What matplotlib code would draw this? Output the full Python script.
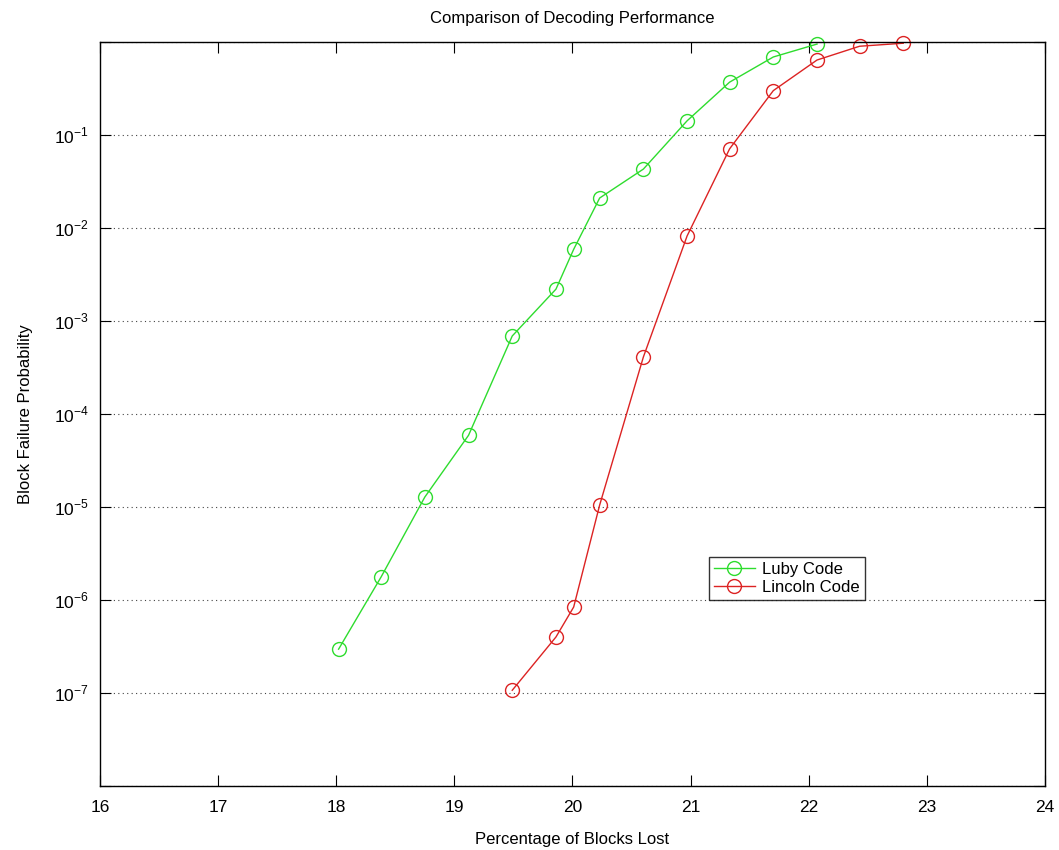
import matplotlib
matplotlib.use("Agg")
import matplotlib.pyplot as plt
import numpy as np

plt.rcParams['font.family'] = ['Liberation Sans', 'DejaVu Sans']
plt.rcParams['mathtext.fontset'] = 'custom'
plt.rcParams['mathtext.rm'] = 'Liberation Sans'

luby_x = [18.02, 18.38, 18.75, 19.12, 19.49, 19.86, 20.01, 20.23, 20.60, 20.97, 21.33, 21.70, 22.07]
luby_y = [2.96e-7, 1.77e-6, 1.28e-5, 5.9e-5, 6.9e-4, 2.2e-3, 5.9e-3, 2.1e-2, 4.3e-2, 0.142, 0.37, 0.69, 0.95]

lincoln_x = [19.49, 19.86, 20.01, 20.23, 20.60, 20.97, 21.33, 21.70, 22.07, 22.43, 22.80]
lincoln_y = [1.07e-7, 4.0e-7, 8.4e-7, 1.05e-5, 4.1e-4, 8.2e-3, 0.071, 0.30, 0.64, 0.90, 0.97]

x_ticks = [16, 17, 18, 19, 20, 21, 22, 23, 24]
y_ticks = [1e-8, 1e-7, 1e-6, 1e-5, 1e-4, 1e-3, 1e-2, 1e-1, 1e0]
y_tick_labels = ['', r'$10^{-7}$', r'$10^{-6}$', r'$10^{-5}$', r'$10^{-4}$',
                 r'$10^{-3}$', r'$10^{-2}$', r'$10^{-1}$', '']

fig = plt.figure(figsize=(10.59, 8.5), dpi=100)
ax = fig.add_axes([0.0944, 0.0753, 0.8924, 0.8753])

ax.plot(luby_x, luby_y, color='#2edc2e', lw=1.0, marker='o', markersize=10,
        markerfacecolor='none', markeredgewidth=1.0, label='Luby Code', clip_on=False)
ax.plot(lincoln_x, lincoln_y, color='#dc2323', lw=1.0, marker='o', markersize=10,
        markerfacecolor='none', markeredgewidth=1.0, label='Lincoln Code', clip_on=False)

ax.set_yscale('log')
ax.set_xlim(16, 24)
ax.set_ylim(1e-8, 1)
ax.set_xticks(x_ticks)
ax.set_xticklabels([str(t) for t in x_ticks])
ax.set_yticks(y_ticks)
ax.set_yticklabels(y_tick_labels)
ax.minorticks_off()
ax.tick_params(axis='both', direction='in', length=8, width=0.8, labelsize=12.5,
               top=True, right=True)
ax.tick_params(axis='x', pad=10)
ax.tick_params(axis='y', pad=8)
ax.yaxis.grid(True, linestyle=(0, (1, 3)), color='#444444', lw=0.8)
for s in ax.spines.values():
    s.set_linewidth(1.0)

ax.set_title('Comparison of Decoding Performance', fontsize=12, pad=14)
ax.set_xlabel('Percentage of Blocks Lost', fontsize=12, labelpad=12)
ax.set_ylabel('Block Failure Probability', fontsize=12, labelpad=15)

leg = ax.legend(loc='lower left', bbox_to_anchor=(0.644, 0.25), fontsize=12,
                frameon=True, fancybox=False, edgecolor='black', borderpad=0.3,
                handlelength=2.5, handletextpad=0.4, labelspacing=0.2, borderaxespad=0)
leg.get_frame().set_linewidth(1.0)

fig.savefig('out.png', dpi=100)
